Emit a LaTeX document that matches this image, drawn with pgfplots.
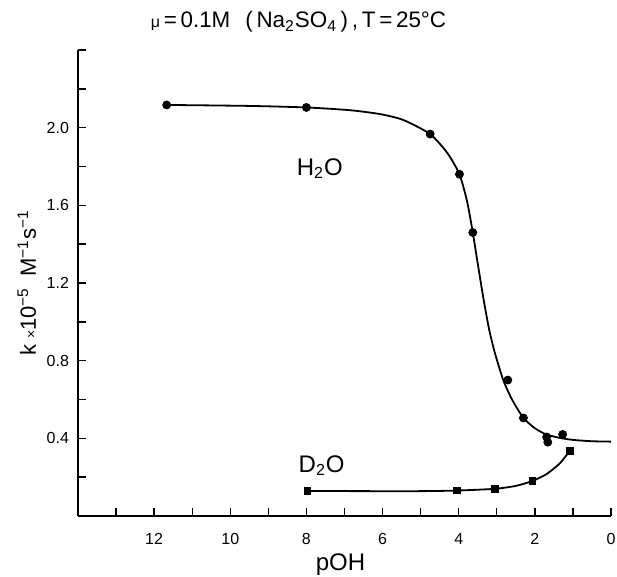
\documentclass[border=0pt]{standalone}
\usepackage{fontspec}
\setmainfont{Liberation Sans}
\usepackage{pgfplots}
\pgfplotsset{compat=1.18}

\pgfplotstableread{
x y
11.67 2.117
8.00 2.104
4.75 1.967
3.98 1.760
3.63 1.460
2.71 0.700
2.30 0.505
1.69 0.407
1.66 0.380
1.27 0.420
}\hwpts
\pgfplotstableread{
x y
11.67 2.117
9.50 2.112
8.00 2.104
6.86 2.090
6.07 2.070
5.46 2.040
4.75 1.967
4.30 1.870
3.98 1.760
3.78 1.620
3.63 1.460
3.50 1.300
3.35 1.120
3.20 0.960
3.05 0.840
2.83 0.700
2.60 0.600
2.30 0.505
2.00 0.452
1.70 0.420
1.34 0.402
1.00 0.392
0.50 0.385
0.00 0.383
}\hwfit
% D2O
\pgfplotstableread{
x y
7.98 0.129
4.05 0.131
3.05 0.140
2.07 0.180
1.08 0.336
}\dwpts
\pgfplotstableread{
x y
7.98 0.129
6.50 0.128
5.00 0.128
4.05 0.131
3.05 0.140
2.50 0.155
2.07 0.180
1.70 0.215
1.35 0.270
1.08 0.336
}\dwfit

\begin{document}
\begin{tikzpicture}
\begin{axis}[
    name=ax,
    scale only axis, width=266.5pt, height=233pt,
    x dir=reverse,
    xmin=0, xmax=14, ymin=0, ymax=2.4,
    axis lines=left, axis line style={-, line width=1.4pt},
    tick style={line width=0.7pt, black},
    tick align=inside,
    major tick length=4pt, minor tick length=4pt,
    xtick={0,2,...,12}, minor xtick={1,3,...,13},
    ytick={0.4,0.8,1.2,1.6,2.0}, minor ytick={0.2,0.6,1.0,1.4,1.8,2.2,2.4},
    yticklabel style={/pgf/number format/fixed, /pgf/number format/precision=1,
                      /pgf/number format/fixed zerofill},
    /pgf/number format/assume math mode=true,
    ticklabel style={font=\fontsize{8}{9}\selectfont},
    xticklabel style={yshift=-5pt},
    yticklabel style={xshift=-1pt},
    xlabel={pOH},
    xlabel style={font=\fontsize{12}{14}\selectfont, at={(axis description cs:0.5,0)}, anchor=center, yshift=-24.5pt, xshift=-2pt},
    ylabel={k {\fontsize{7}{8}\selectfont ×}10\textsuperscript{−5}\enspace M\textsuperscript{−1}s\textsuperscript{−1}},
    ylabel style={font=\fontsize{11}{13}\selectfont, at={(axis description cs:-0.096,0.5)}, anchor=center},
    every axis title shift=0pt,
    title={{\fontsize{8}{8}\selectfont μ}\,=\,0.1M\enspace\,(\,Na\textsubscript{2}SO\textsubscript{4}\,)\,,\,T\,=\,25°C},
    title style={font=\fontsize{11.2}{13}\selectfont, at={(axis description cs:0.5,1)}, anchor=center, yshift=14pt, xshift=-23pt},
    clip=false,
  ]
  \addplot[black, line width=0.9pt, smooth, tension=0.4] table {\hwfit};
  \addplot[only marks, mark=*, mark size=2pt, black] table {\hwpts};
  \addplot[black, line width=0.9pt, smooth, tension=0.4] table {\dwfit};
  \addplot[only marks, mark=square*, mark size=1.6pt, black] table {\dwpts};
  \node[font=\fontsize{12}{14}\selectfont] at (axis cs:7.65,1.79) {H\textsubscript{2}O};
  \node[font=\fontsize{12}{14}\selectfont] at (axis cs:7.6,0.26) {D\textsubscript{2}O};
\end{axis}
\pgfresetboundingbox
\path ([shift={(-39pt,-30.5pt)}]ax.south west) rectangle ([shift={(3pt,25pt)}]ax.north east);
\end{tikzpicture}
\end{document}
